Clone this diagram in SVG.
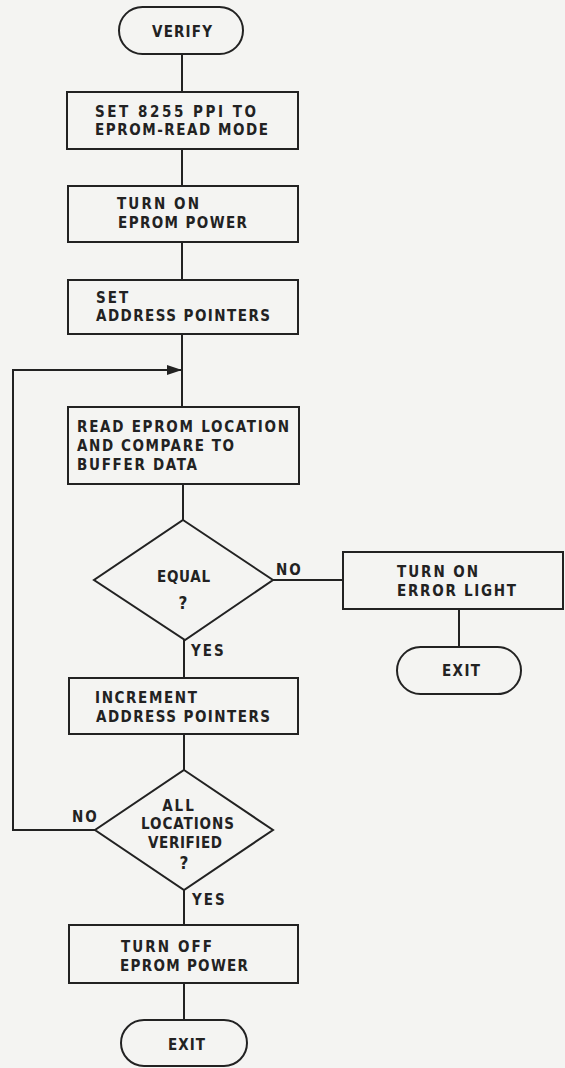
<svg xmlns="http://www.w3.org/2000/svg" width="565" height="1068" viewBox="0 0 565 1068">
<style>
.bg{fill:#f4f4f2}
.n{fill:none;stroke:#222;stroke-width:2}
.c{fill:none;stroke:#222;stroke-width:2}
text{font-family:"DejaVu Sans Condensed","DejaVu Sans","Liberation Sans",sans-serif;font-size:15px;fill:#222;font-weight:bold}
.s{letter-spacing:2px}
.m{text-anchor:middle}
.q{font-size:17px}
</style>
<defs>
<marker id="ah" markerWidth="16" markerHeight="12" refX="15" refY="6" orient="auto" markerUnits="userSpaceOnUse">
<polygon points="0,1 15,6 0,11" fill="#222"/>
</marker>
</defs>
<rect class="bg" x="0" y="0" width="565" height="1068"/>

<g id="connectors">
<line class="c" x1="182" y1="54" x2="182" y2="92"/>
<line class="c" x1="182" y1="149" x2="182" y2="186"/>
<line class="c" x1="182" y1="242" x2="182" y2="280"/>
<line class="c" x1="182" y1="334" x2="182" y2="407"/>
<line class="c" x1="183" y1="484" x2="183" y2="520"/>
<line class="c" x1="273" y1="580" x2="343" y2="580"/>
<line class="c" x1="459" y1="609" x2="459" y2="647"/>
<line class="c" x1="184" y1="640" x2="184" y2="678"/>
<line class="c" x1="184" y1="734" x2="184" y2="770"/>
<polyline class="c" points="95,830 13,830 13,370 182,370" marker-end="url(#ah)"/>
<line class="c" x1="184" y1="890" x2="184" y2="925"/>
<line class="c" x1="184" y1="983" x2="184" y2="1020"/>
<text class="s" x="276" y="575">NO</text>
<text class="s" x="191" y="656">YES</text>
<text class="s" x="72" y="822">NO</text>
<text class="s" x="192" y="905">YES</text>
</g>

<g id="verify">
<rect class="n" x="119" y="7" width="124" height="47" rx="23.5"/>
<text x="152" y="37" textLength="60" lengthAdjust="spacing">VERIFY</text>
</g>

<g id="set-ppi">
<rect class="n" x="67" y="92" width="231" height="57"/>
<text x="95" y="117" textLength="161" lengthAdjust="spacing">SET 8255 PPI TO</text>
<text x="95" y="135" textLength="173" lengthAdjust="spacing">EPROM-READ MODE</text>
</g>

<g id="power-on">
<rect class="n" x="68" y="186" width="230" height="56"/>
<text x="117" y="209" textLength="82" lengthAdjust="spacing">TURN ON</text>
<text x="118" y="228" textLength="129" lengthAdjust="spacing">EPROM POWER</text>
</g>

<g id="set-pointers">
<rect class="n" x="68" y="280" width="230" height="54"/>
<text class="s" x="96" y="303">SET</text>
<text x="96" y="321" textLength="174" lengthAdjust="spacing">ADDRESS POINTERS</text>
</g>

<g id="read-compare">
<rect class="n" x="68" y="407" width="231" height="77"/>
<text x="77" y="432" textLength="212" lengthAdjust="spacing">READ EPROM LOCATION</text>
<text x="77" y="451" textLength="157" lengthAdjust="spacing">AND COMPARE TO</text>
<text x="77" y="470" textLength="120" lengthAdjust="spacing">BUFFER DATA</text>
</g>

<g id="equal">
<polygon class="n" points="183,520 273,580 185,640 94,580"/>
<text x="157" y="582" textLength="53" lengthAdjust="spacing">EQUAL</text>
<text class="m q" x="183" y="609">?</text>
</g>

<g id="error-light">
<rect class="n" x="343" y="552" width="220" height="57"/>
<text x="397" y="577" textLength="81" lengthAdjust="spacing">TURN ON</text>
<text x="397" y="596" textLength="119" lengthAdjust="spacing">ERROR LIGHT</text>
</g>

<g id="exit-error">
<rect class="n" x="397" y="647" width="124" height="47" rx="23.5"/>
<text x="442" y="676" textLength="38" lengthAdjust="spacing">EXIT</text>
</g>

<g id="increment">
<rect class="n" x="69" y="678" width="229" height="56"/>
<text x="95" y="703" textLength="102" lengthAdjust="spacing">INCREMENT</text>
<text x="96" y="722" textLength="174" lengthAdjust="spacing">ADDRESS POINTERS</text>
</g>

<g id="all-verified">
<polygon class="n" points="184,770 273,830 184,890 95,830"/>
<text class="m s" x="179" y="811">ALL</text>
<text x="141" y="829" textLength="93" lengthAdjust="spacing">LOCATIONS</text>
<text x="148" y="848" textLength="74" lengthAdjust="spacing">VERIFIED</text>
<text class="m q" x="184" y="869">?</text>
</g>

<g id="power-off">
<rect class="n" x="69" y="925" width="229" height="58"/>
<text x="121" y="952" textLength="91" lengthAdjust="spacing">TURN OFF</text>
<text x="120" y="971" textLength="128" lengthAdjust="spacing">EPROM POWER</text>
</g>

<g id="exit">
<rect class="n" x="121" y="1020" width="126" height="46" rx="23"/>
<text x="168" y="1050" textLength="37" lengthAdjust="spacing">EXIT</text>
</g>
</svg>
